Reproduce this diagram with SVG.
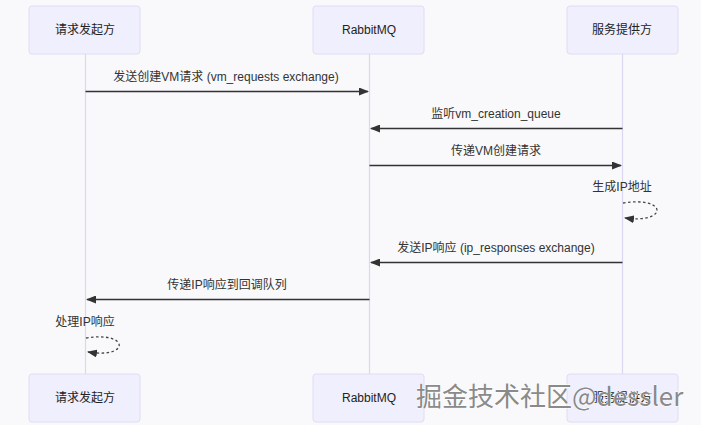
<svg xmlns="http://www.w3.org/2000/svg" width="701" height="425" viewBox="0 0 701 425">
<defs>
<style>
.actor{fill:#efeffd;stroke:#e0dcf2;stroke-width:1}
.life{stroke:#dcd6f2;stroke-width:1.2}
.at{font-family:"Liberation Sans","Noto Sans CJK SC",sans-serif;font-size:12px;fill:#222;text-anchor:middle;dominant-baseline:central}
.mt{font-family:"Liberation Sans","Noto Sans CJK SC",sans-serif;font-size:12px;fill:#333;text-anchor:middle}
.msg{stroke:#333;stroke-width:1.3;fill:none}
.self{stroke:#444;stroke-width:1.3;fill:none;stroke-dasharray:2.5,2.5}
.wm{font-family:"Noto Sans CJK SC","Liberation Sans",sans-serif;font-size:26px;fill:#8a8a8a;stroke:#fff;stroke-width:1;paint-order:stroke}
</style>
<marker id="ah" markerWidth="10" markerHeight="8" refX="9" refY="4" orient="auto" markerUnits="userSpaceOnUse">
<path d="M0,0 L10,4 L0,8 z" fill="#333"/>
</marker>
</defs>
<rect width="701" height="425" fill="#f9f9fb"/>
<g id="lifelines">
<line class="life" x1="85.5" y1="54" x2="85.5" y2="374"/>
<line class="life" x1="369.5" y1="54" x2="369.5" y2="374"/>
<line class="life" x1="622.5" y1="54" x2="622.5" y2="374"/>
</g>
<g id="actor-requester-top"><rect class="actor" x="29" y="6" width="111" height="48" rx="3"/><text class="at" x="85" y="30">请求发起方</text></g>
<g id="actor-rabbitmq-top"><rect class="actor" x="313" y="6" width="111" height="48" rx="3"/><text class="at" x="369" y="30">RabbitMQ</text></g>
<g id="actor-provider-top"><rect class="actor" x="567" y="6" width="111" height="48" rx="3"/><text class="at" x="622" y="30">服务提供方</text></g>
<g id="actor-requester-bottom"><rect class="actor" x="29" y="374" width="111" height="48" rx="3"/><text class="at" x="85" y="398">请求发起方</text></g>
<g id="actor-rabbitmq-bottom"><rect class="actor" x="313" y="374" width="111" height="48" rx="3"/><text class="at" x="369" y="398">RabbitMQ</text></g>
<g id="actor-provider-bottom"><rect class="actor" x="567" y="374" width="111" height="48" rx="3"/><text class="at" x="622" y="398">服务提供方</text></g>
<g id="connectors">
<line class="msg" x1="85.5" y1="91.5" x2="368" y2="91.5" marker-end="url(#ah)"/>
<line class="msg" x1="622.5" y1="128.5" x2="371" y2="128.5" marker-end="url(#ah)"/>
<line class="msg" x1="369.5" y1="165.5" x2="621" y2="165.5" marker-end="url(#ah)"/>
<path class="self" d="M623,203 C668,196 668,224 625,218" marker-end="url(#ah)"/>
<line class="msg" x1="622.5" y1="262.5" x2="371" y2="262.5" marker-end="url(#ah)"/>
<line class="msg" x1="369.5" y1="299.5" x2="87" y2="299.5" marker-end="url(#ah)"/>
<path class="self" d="M86,338 C130,331 130,359 88,352" marker-end="url(#ah)"/>
</g>
<g id="labels">
<text class="mt" x="226" y="81">发送创建VM请求 (vm_requests exchange)</text>
<text class="mt" x="496" y="118">监听vm_creation_queue</text>
<text class="mt" x="496" y="155">传递VM创建请求</text>
<text class="mt" x="622" y="191">生成IP地址</text>
<text class="mt" x="496" y="252">发送IP响应 (ip_responses exchange)</text>
<text class="mt" x="227" y="289">传递IP响应到回调队列</text>
<text class="mt" x="85" y="326">处理IP响应</text>
</g>
<text class="wm" x="416" y="406">掘金技术社区@dessler</text>
</svg>
